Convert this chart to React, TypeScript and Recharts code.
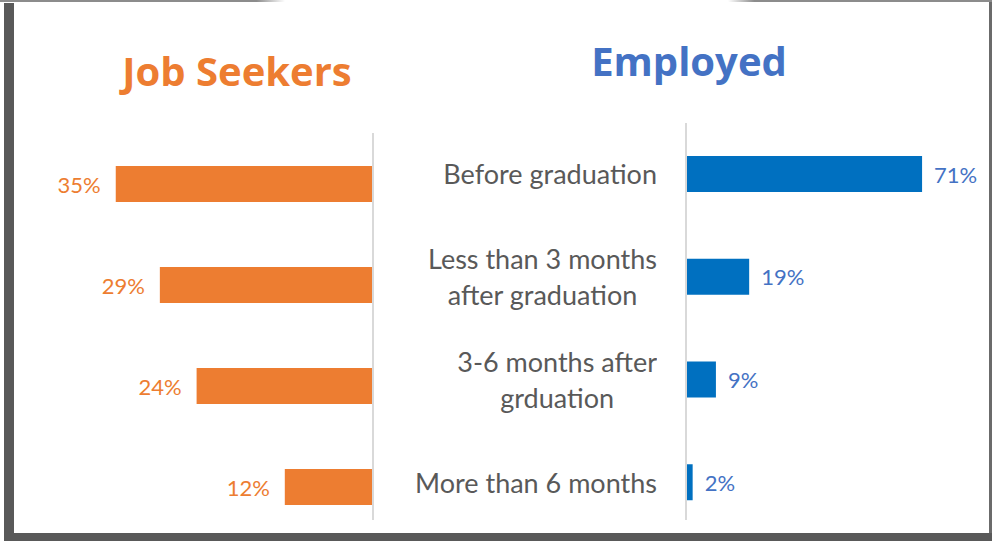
import React from 'react';
import { BarChart, Bar, XAxis, YAxis, LabelList } from 'recharts';

const categories = [
  'Before graduation',
  'Less than 3 months\nafter graduation',
  '3-6 months after\ngrduation',
  'More than 6 months',
];
const jobSeekers = [35, 29, 24, 12];
const employed = [71, 19, 9, 2];

const ORANGE = '#ED7D31';
const BAR_BLUE = '#0070C0';
const TEXT_BLUE = '#4472C4';
const FONT = 'Lato, "Open Sans", sans-serif';
const TITLE_FONT = '"Open Sans", Lato, sans-serif';

const data = categories.map((category, i) => ({
  category,
  seekers: jobSeekers[i],
  employed: employed[i],
}));

const leftLabel = (props: any) => {
  const { x, y, width, height, value } = props;
  const left = Math.min(x, x + width);
  return (
    <text
      x={left - 15}
      y={y + height / 2}
      textAnchor="end"
      dominantBaseline="central"
      fill={ORANGE}
      fontSize={22}
      fontFamily={FONT}
    >
      {value}%
    </text>
  );
};

const rightLabel = (props: any) => {
  const { x, y, width, height, value } = props;
  const right = Math.max(x, x + width);
  return (
    <text
      x={right + 12}
      y={y + height / 2}
      textAnchor="start"
      dominantBaseline="central"
      fill={TEXT_BLUE}
      fontSize={22}
      fontFamily={FONT}
    >
      {value}%
    </text>
  );
};

const CategoryTick = (props: any) => {
  const { x, y, payload } = props;
  return (
    <foreignObject x={x - 400} y={y - 50} width={400} height={100}>
      <div
        style={{
          display: 'flex',
          justifyContent: 'flex-end',
          alignItems: 'center',
          height: 100,
        }}
      >
        <div
          style={{
            textAlign: 'center',
            whiteSpace: 'pre-line',
            lineHeight: '36px',
            fontSize: 27,
            color: '#595959',
            fontFamily: FONT,
          }}
        >
          {payload.value}
        </div>
      </div>
    </foreignObject>
  );
};

export default function App() {
  return (
    <div
      style={{
        position: 'absolute',
        left: 0,
        top: 0,
        width: 992,
        height: 541,
        background: '#fff',
        overflow: 'hidden',
      }}
    >
      {/* frame */}
      <div style={{ position: 'absolute', left: 0, top: 0, width: 285, height: 2, background: 'linear-gradient(to right, #8c8c8c 90%, rgba(140,140,140,0))' }} />
      <div style={{ position: 'absolute', left: 728, top: 0, width: 264, height: 2, background: 'linear-gradient(to left, #8c8c8c 90%, rgba(140,140,140,0))' }} />
      <div style={{ position: 'absolute', left: 4, top: 3, width: 10, height: 538, background: '#595959' }} />
      <div style={{ position: 'absolute', left: 989, top: 2, width: 3, height: 539, background: '#6b6b6b' }} />

      <div style={{ position: 'absolute', left: 0, top: 0 }}>
        <BarChart
          width={400}
          height={541}
          data={data}
          layout="vertical"
          margin={{ top: 133, right: 26, bottom: 4, left: 79 }}
        >
          <XAxis type="number" domain={[0, 40]} reversed hide />
          <YAxis
            type="category"
            dataKey="category"
            orientation="right"
            width={1}
            tick={false}
            tickLine={false}
            axisLine={{ stroke: '#d9d9d9', strokeWidth: 2, strokeDasharray: '387 1000' }}
          />
          <Bar dataKey="seekers" fill={ORANGE} barSize={36} isAnimationActive={false}>
            <LabelList dataKey="seekers" content={leftLabel} />
          </Bar>
        </BarChart>
      </div>

      <div style={{ position: 'absolute', left: 0, top: 0 }}>
        <BarChart
          width={992}
          height={541}
          data={data}
          layout="vertical"
          margin={{ top: 123, right: 40, bottom: 7, left: 685 }}
        >
          <XAxis type="number" domain={[0, 80]} hide />
          <YAxis
            type="category"
            dataKey="category"
            width={1}
            interval={0}
            tickLine={false}
            tickSize={0}
            tickMargin={29}
            tick={CategoryTick}
            axisLine={{ stroke: '#d9d9d9', strokeWidth: 2, strokeDasharray: '397 1000' }}
          />
          <Bar dataKey="employed" fill={BAR_BLUE} barSize={36} isAnimationActive={false}>
            <LabelList dataKey="employed" content={rightLabel} />
          </Bar>
        </BarChart>
      </div>

      <svg width={992} height={541} style={{ position: 'absolute', left: 0, top: 0, pointerEvents: 'none' }}>
        <text x={237} y={86} textAnchor="middle" fill={ORANGE} fontSize={40} fontWeight={700} fontFamily={TITLE_FONT}>
          Job Seekers
        </text>
        <text x={689} y={76} textAnchor="middle" fill={TEXT_BLUE} fontSize={40} fontWeight={700} fontFamily={TITLE_FONT}>
          Employed
        </text>
      </svg>

      <div style={{ position: 'absolute', left: 4, top: 533, width: 988, height: 8, background: '#595959' }} />
    </div>
  );
}
